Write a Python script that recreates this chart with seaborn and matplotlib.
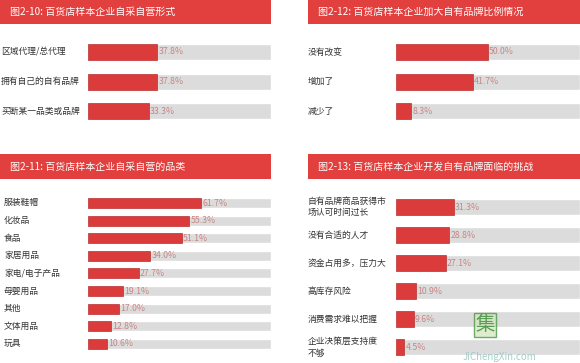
import matplotlib
matplotlib.use('Agg')
import matplotlib.pyplot as plt
import seaborn as sns
import pandas as pd
from matplotlib.patches import Rectangle
from matplotlib.transforms import blended_transform_factory

sns.set_style('white')
plt.rcParams['font.family'] = ['Noto Sans CJK SC', 'DejaVu Sans']

# ===== 数据 =====
title1 = '图2-10: 百货店样本企业自采自营形式'
labels1 = ['区域代理/总代理', '拥有自己的自有品牌', '买断某一品类或品牌']
values1 = [37.8, 37.8, 33.3]

title2 = '图2-12: 百货店样本企业加大自有品牌比例情况'
labels2 = ['没有改变', '增加了', '减少了']
values2 = [50.0, 41.7, 8.3]

title3 = '图2-11: 百货店样本企业自采自营的品类'
labels3 = ['服装鞋帽', '化妆品', '食品', '家居用品', '家电/电子产品',
           '母婴用品', '其他', '文体用品', '玩具']
values3 = [61.7, 55.3, 51.1, 34.0, 27.7, 19.1, 17.0, 12.8, 10.6]

title4 = '图2-13: 百货店样本企业开发自有品牌面临的挑战'
labels4 = ['自有品牌商品获得市\n场认可时间过长', '没有合适的人才', '资金占用多，压力大',
           '高库存风险', '消费需求难以把握', '企业决策层支持度\n不够']
values4 = [31.3, 28.8, 27.1, 10.9, 9.6, 4.5]

W, H = 580, 363
RED = '#dc3b3b'
HEAD = '#e2403e'
TRACK = '#dcdcdc'
VAL = '#c98585'

fig = plt.figure(figsize=(W / 100, H / 100), dpi=100)
fig.patch.set_facecolor('white')


def px_axes(x0, y0, x1, y1):
    return fig.add_axes([x0 / W, 1 - y1 / H, (x1 - x0) / W, (y1 - y0) / H])


def header(x0, y0, x1, y1, text):
    fig.patches.append(Rectangle((x0 / W, 1 - y1 / H), (x1 - x0) / W, (y1 - y0) / H,
                                 transform=fig.transFigure, facecolor=HEAD,
                                 edgecolor='none', zorder=0))
    fig.text((x0 + 10) / W, 1 - (y0 + y1) / 2 / H, text, color='white',
             fontsize=7.2, fontweight='medium', ha='left', va='center')


def panel(x0, x1, yc_first, step, labels, values, bar_h, label_x, fs=6.3):
    n = len(labels)
    top = yc_first - step / 2
    bottom = yc_first + step * (n - 0.5)
    ax = px_axes(x0, top, x1, bottom)
    df = pd.DataFrame({'label': labels, 'value': values, 'full': [100] * n})
    sns.barplot(data=df, x='full', y='label', orient='h', color=TRACK,
                width=bar_h / step, saturation=1, ax=ax)
    sns.barplot(data=df, x='value', y='label', orient='h', color=RED,
                width=bar_h / step, saturation=1, ax=ax,
                edgecolor='#b83030', linewidth=0.5)
    ax.set_xlim(0, 100)
    ax.set_ylim(n - 0.5, -0.5)
    ax.set_xlabel('')
    ax.set_ylabel('')
    ax.set_xticks([])
    ax.set_yticks([])
    for s in ax.spines.values():
        s.set_visible(False)
    ax.patch.set_alpha(0)
    for i, v in enumerate(values):
        ax.text(v + 0.6, i, f'{v:.1f}%', color=VAL, fontsize=fs,
                ha='left', va='center')
    tr = blended_transform_factory(ax.transAxes, ax.transData)
    off = (label_x - x0) / (x1 - x0)
    for i, lab in enumerate(labels):
        ax.text(off, i, lab, transform=tr, color='#333333', fontsize=fs,
                ha='left', va='center', linespacing=1.4)
    return ax


# ---- 左上 ----
header(0, 0, 271, 24, title1)
panel(88, 271, 52, 29.5, labels1, values1, 16, 1)

# ---- 右上 ----
header(308, 0, 580, 24, title2)
panel(396, 580, 52, 29.5, labels2, values2, 16, 308)

# ---- 左下 ----
header(0, 154, 271, 179, title3)
panel(88, 271, 203, 17.6, labels3, values3, 10, 4)

# ---- 右下 ----
header(308, 154, 580, 179, title4)
panel(396, 580, 207, 28, labels4, values4, 16, 308)

# 水印
fig.text(500 / W, 1 - 357 / H, 'JiChengXin.com', color='#8fc3bd', fontsize=7,
         ha='center', va='center', alpha=0.8)
fig.text(485 / W, 1 - 325 / H, '集', color='#3a8a3a', fontsize=14,
         ha='center', va='center', alpha=0.8,
         bbox=dict(facecolor='#cfe8b8', edgecolor='#3a8a3a', pad=1, alpha=0.7))

fig.savefig('out.png', dpi=100)
